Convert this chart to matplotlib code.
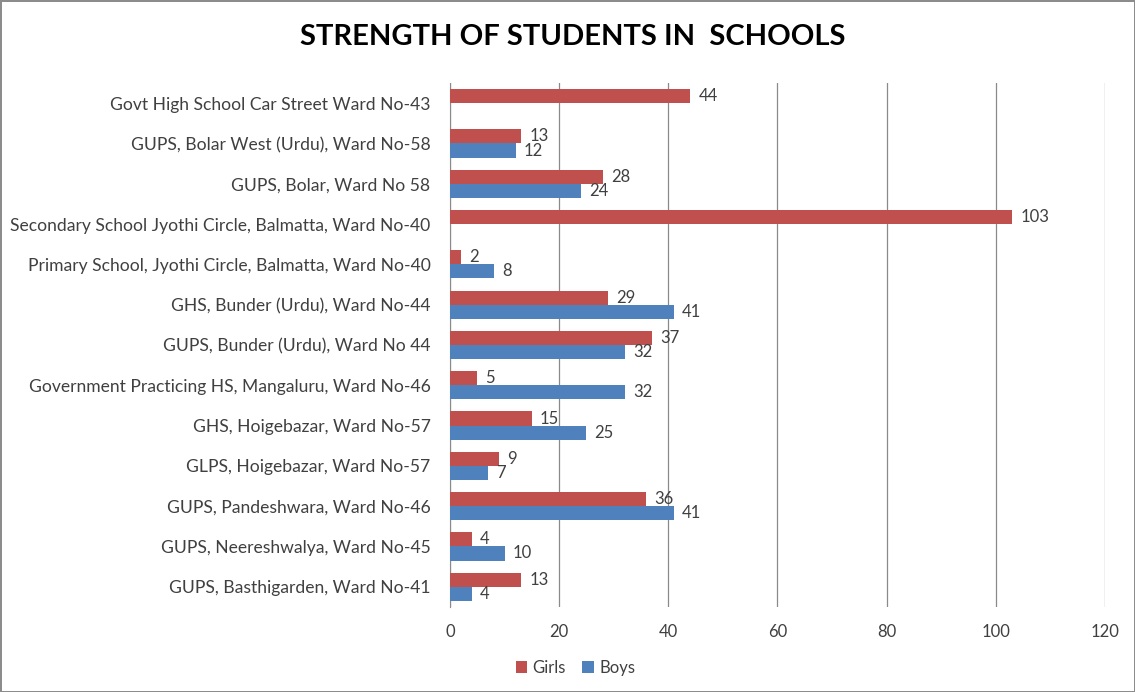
import numpy as np
import matplotlib.pyplot as plt

# datos de la grafica (de arriba hacia abajo)
schools = [
    "Govt High School Car Street Ward No-43",
    "GUPS, Bolar West (Urdu), Ward No-58",
    "GUPS, Bolar, Ward No 58",
    "Secondary School Jyothi Circle, Balmatta, Ward No-40",
    "Primary School, Jyothi Circle, Balmatta, Ward No-40",
    "GHS, Bunder (Urdu), Ward No-44",
    "GUPS, Bunder (Urdu), Ward No 44",
    "Government Practicing HS, Mangaluru, Ward No-46",
    "GHS, Hoigebazar, Ward No-57",
    "GLPS, Hoigebazar, Ward No-57",
    "GUPS, Pandeshwara, Ward No-46",
    "GUPS, Neereshwalya, Ward No-45",
    "GUPS, Basthigarden, Ward No-41",
]
girls = [44, 13, 28, 103, 2, 29, 37, 5, 15, 9, 36, 4, 13]
boys = [None, 12, 24, None, 8, 41, 32, 32, 25, 7, 41, 10, 4]
xticks = [0, 20, 40, 60, 80, 100, 120]

plt.rcParams['font.family'] = ['Lato', 'DejaVu Sans']
texto = '#404040'

fig = plt.figure(figsize=(11.35, 6.92), dpi=100, edgecolor='#8c8c8c', linewidth=2)
ax = fig.add_axes([0.3965, 0.123, 0.577, 0.757])

y = np.arange(len(schools))
h = 0.35
for i in range(len(schools)):
    ax.barh(y[i] - h / 2, girls[i], height=h, color='#C0504D', zorder=3,
            label='Girls' if i == 0 else None)
    ax.text(girls[i] + 1.5, y[i] - h / 2, str(girls[i]), va='center', ha='left',
            fontsize=12, color=texto)
    if boys[i] is not None:
        ax.barh(y[i] + h / 2, boys[i], height=h, color='#4F81BD', zorder=3,
                label='Boys' if i == 1 else None)
        ax.text(boys[i] + 1.5, y[i] + h / 2, str(boys[i]), va='center', ha='left',
                fontsize=12, color=texto)

ax.set_ylim(len(schools) - 0.5, -0.5)
ax.set_xlim(0, 120)
ax.set_xticks(xticks)
ax.set_yticks(y)
ax.set_yticklabels(schools)
ax.tick_params(axis='y', length=0, pad=14, labelsize=12.6, labelcolor=texto)
ax.tick_params(axis='x', length=0, pad=12, labelsize=12, labelcolor=texto)
ax.grid(axis='x', color='#8a8a8a', linewidth=0.9, zorder=0)
for s in ['top', 'right', 'bottom']:
    ax.spines[s].set_visible(False)
ax.spines['left'].set_color('#8a8a8a')

fig.suptitle('STRENGTH OF STUDENTS IN  SCHOOLS', x=0.505, y=0.965,
             fontsize=21, fontweight='bold', color='black')

fig.legend(loc='center', bbox_to_anchor=(0.507, 0.035), ncol=2, frameon=False,
           fontsize=12, handlelength=0.7, handleheight=0.7, handletextpad=0.3,
           columnspacing=1.0, labelcolor=texto)

fig.savefig('out.png', dpi=100)
